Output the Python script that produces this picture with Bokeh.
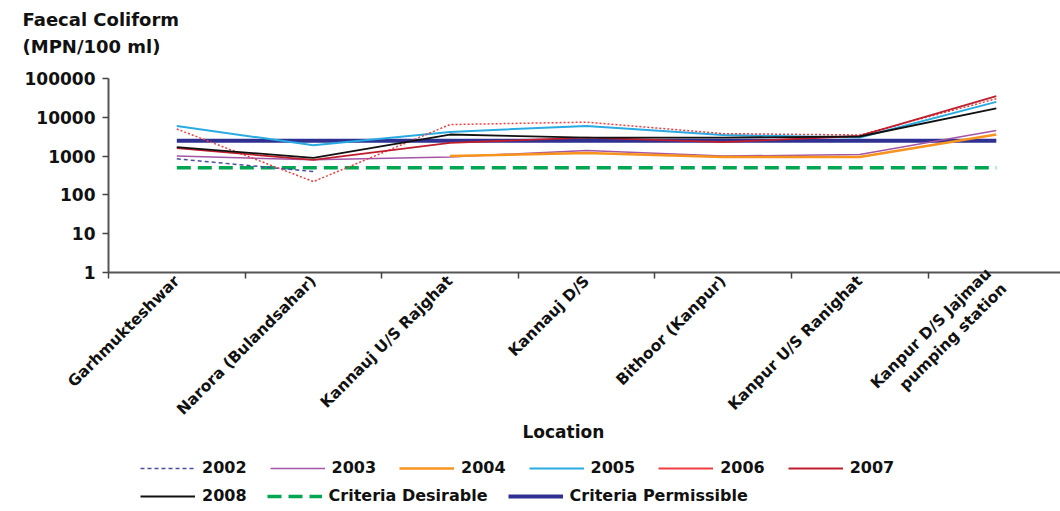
import math
from bokeh.plotting import figure
from bokeh.layouts import column
from bokeh.models import (Range1d, FixedTicker, CustomJSTickFormatter, NumeralTickFormatter,
                          Legend, LegendItem, Title)
from bokeh.embed import file_html
from bokeh.resources import INLINE

nan = float("nan")

locations = ["Garhmukteshwar", "Narora (Bulandsahar)", "Kannauj U/S Rajghat", "Kannauj D/S",
             "Bithoor (Kanpur)", "Kanpur U/S Ranighat", "Kanpur D/S Jajmau\npumping station"]
x_pos = [0.5, 1.5, 2.5, 3.5, 4.5, 5.5, 6.5]

y2002 = [850, 400, nan, nan, nan, nan, nan]
y2003 = [1000, 800, 950, 1400, 1000, 1100, 4600]
y2004 = [nan, nan, 1000, 1200, 950, 950, 3600]
y2005 = [6000, 1900, 4200, 6000, 3500, 3000, 25000]
y2006 = [5000, 220, 6500, 7500, 3800, 3500, 30000]
y2007 = [1600, 800, 2200, 3000, 2300, 3300, 35000]
y2008 = [1700, 900, 3600, 3000, 3000, 3200, 17000]
desirable = [500, 500, 500, 500, 500, 500, 500]
permissible = [2500, 2500, 2500, 2500, 2500, 2500, 2500]

y_ticks = [1, 10, 100, 1000, 10000, 100000]
y_title = ["Faecal Coliform", "(MPN/100 ml)"]
x_title = "Location"

FONT = "DejaVu Sans"
INK = "#111111"

styles = {
    "2002": dict(line_color="#4b4ba8", line_width=1.5, line_dash="4 3"),
    "2003": dict(line_color="#a455a6", line_width=1.5),
    "2004": dict(line_color="#f7941d", line_width=2.5),
    "2005": dict(line_color="#29abe2", line_width=2),
    "2006": dict(line_color="#ef3e42", line_width=1.5, line_dash="2 2"),
    "2007": dict(line_color="#be1e2d", line_width=1.8),
    "2008": dict(line_color=INK, line_width=1.8),
    "Criteria Desirable": dict(line_color="#00a651", line_width=3.5, line_dash="14 7"),
    "Criteria Permissible": dict(line_color="#2e3192", line_width=4),
}

# frame reaches a little above 100000 so the caption can sit close to the axis top
p = figure(frame_width=952, frame_height=212, x_range=Range1d(0, 6.97),
           y_range=Range1d(1, 10 ** 5.464), y_axis_type="log", output_backend="svg",
           toolbar_location=None, title=y_title[0],
           min_border_left=108, min_border_right=0, min_border_top=60, min_border_bottom=180)
p.outline_line_color = None
p.xgrid.visible = False
p.ygrid.visible = False

# y caption, two lines at the top-left (later-added title sits nearer the frame)
p.title.align = "left"
p.title.offset = -86
p.title.standoff = 0
p.title.text_font = FONT
p.title.text_font_style = "bold"
p.title.text_font_size = "18px"
p.title.text_color = INK
p.add_layout(Title(text=y_title[1], align="left", offset=-86, standoff=8,
                   text_font=FONT, text_font_style="bold", text_font_size="18px",
                   text_color=INK), "above")

# axes
p.xaxis.ticker = FixedTicker(ticks=x_pos, minor_ticks=[0, 1, 2, 3, 4, 5, 6, 7])
p.xaxis.formatter = CustomJSTickFormatter(args=dict(labels=locations),
    code="const i = Math.round(tick - 0.5); return (i >= 0 && i < labels.length) ? labels[i] : '';")
p.xaxis.major_label_orientation = math.pi / 4
p.xaxis.major_tick_line_color = None
p.xaxis.minor_tick_out = 6
p.xaxis.minor_tick_in = 0
p.xaxis.minor_tick_line_color = "#444444"
p.xaxis.minor_tick_line_width = 1.5
p.xaxis.axis_line_color = "#555555"
p.xaxis.axis_line_width = 2
p.xaxis.major_label_text_font = FONT
p.xaxis.major_label_text_font_style = "bold"
p.xaxis.major_label_text_font_size = "15.5px"
p.xaxis.major_label_text_color = INK
p.xaxis.major_label_standoff = 0
p.xaxis.axis_label_standoff = 0

p.yaxis.ticker = FixedTicker(ticks=y_ticks)
p.yaxis.bounds = (1, 100000)
p.yaxis.formatter = NumeralTickFormatter(format="0")
p.yaxis.minor_tick_line_color = None
p.yaxis.major_tick_out = 6
p.yaxis.major_tick_in = 0
p.yaxis.major_tick_line_color = "#444444"
p.yaxis.major_tick_line_width = 1.5
p.yaxis.axis_line_color = "#555555"
p.yaxis.axis_line_width = 2
p.yaxis.major_label_text_font = FONT
p.yaxis.major_label_text_font_style = "bold"
p.yaxis.major_label_text_font_size = "17px"
p.yaxis.major_label_text_color = INK
p.yaxis.major_label_standoff = 7

# series
p.line(x_pos, desirable, **styles["Criteria Desirable"])
p.line(x_pos, permissible, **styles["Criteria Permissible"])
p.line(x_pos, y2002, **styles["2002"])
p.line(x_pos, y2003, **styles["2003"])
p.line(x_pos, y2004, **styles["2004"])
p.line(x_pos, y2005, **styles["2005"])
p.line(x_pos, y2006, **styles["2006"])
p.line(x_pos, y2007, **styles["2007"])
p.line(x_pos, y2008, **styles["2008"])

# x caption below the axis
p.add_layout(Title(text=x_title, align="left", offset=414, standoff=-12,
                   vertical_align="top",
                   text_font=FONT, text_font_style="bold", text_font_size="17px",
                   text_color=INK), "below")

# legend strip
lg = figure(width=1060, height=56, x_range=Range1d(0, 1), y_range=Range1d(0, 1),
            output_backend="svg", toolbar_location=None, x_axis_location=None,
            y_axis_location=None, min_border=0)
lg.outline_line_color = None
lg.xgrid.visible = False
lg.ygrid.visible = False
leg_r = {}
for name, st in styles.items():
    st2 = dict(st)
    if name == "2006":
        st2 = dict(line_color=st["line_color"], line_width=2)
    # sample renderer kept outside the visible range; only its legend glyph shows
    leg_r[name] = lg.line([5, 6], [5, 5], **st2)

leg_kw = dict(orientation="horizontal", glyph_width=55, glyph_height=16, label_standoff=7,
              padding=0, margin=0, border_line_color=None,
              background_fill_alpha=0, label_text_font=FONT, label_text_font_style="bold",
              label_text_font_size="16px", label_text_color=INK)
row1 = ["2002", "2003", "2004", "2005", "2006", "2007"]
row2 = ["2008", "Criteria Desirable", "Criteria Permissible"]
leg1 = Legend(items=[LegendItem(label=n, renderers=[leg_r[n]]) for n in row1],
              location=(32, 31), spacing=23, **leg_kw)
leg2 = Legend(items=[LegendItem(label=n, renderers=[leg_r[n]]) for n in row2],
              location=(32, 3), spacing=20, **leg_kw)
lg.add_layout(leg1)
lg.add_layout(leg2)

layout = column(p, lg, spacing=0)
open("out.html", "w").write(file_html(layout, INLINE))
